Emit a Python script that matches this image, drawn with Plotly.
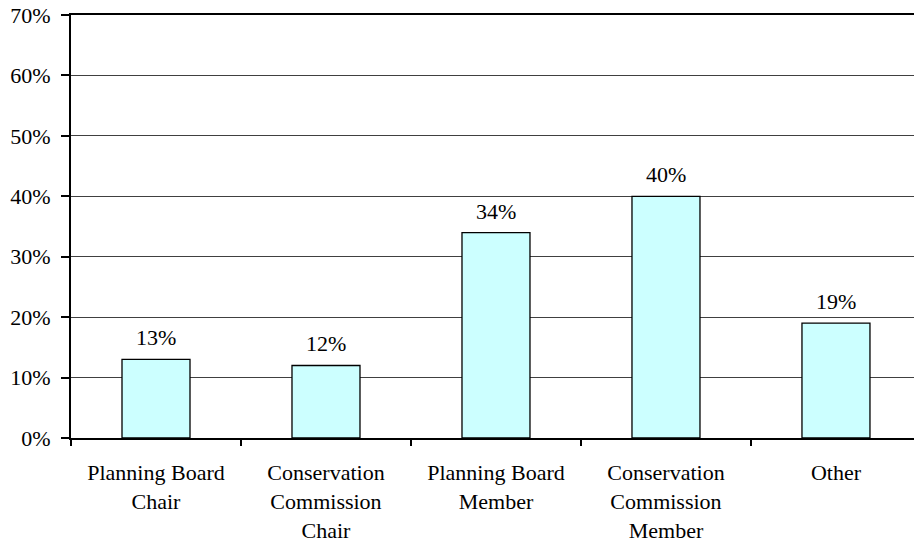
import plotly.graph_objects as go

categories = ["Planning Board<br>Chair", "Conservation<br>Commission<br>Chair",
              "Planning Board<br>Member", "Conservation<br>Commission<br>Member", "Other"]
values = [13, 12, 34, 40, 19]
y_ticks = [0, 10, 20, 30, 40, 50, 60, 70]
y_tick_labels = [f"{v}%" for v in y_ticks]
value_labels = [f"{v}%" for v in values]

FONT = "'Liberation Serif', 'Times New Roman', serif"
FS = 22

fig = go.Figure()
fig.add_trace(go.Bar(
    x=categories, y=values, width=0.4,
    marker=dict(color="#CCFFFF", line=dict(color="black", width=1.3)),
    hoverinfo="skip",
))

for c, v, t in zip(categories, values, value_labels):
    fig.add_annotation(x=c, y=v, xref="x", yref="y", text=t, showarrow=False,
                       yanchor="bottom", yshift=7,
                       font=dict(family=FONT, size=FS, color="black"))

fig.update_layout(
    width=914, height=544,
    margin=dict(l=71, r=0, t=15, b=106, autoexpand=False),
    paper_bgcolor="white", plot_bgcolor="white",
    showlegend=False,
    font=dict(family=FONT, size=FS, color="black"),
    bargap=0.6,
)
fig.update_xaxes(
    type="category", range=[-0.5, 4.459], automargin=False,
    tickson="boundaries", ticks="outside", ticklen=6, tickcolor="black", tickwidth=1.5,
    showline=True, linecolor="black", linewidth=2, mirror=True,
    showgrid=False, ticklabelstandoff=14,
    tickfont=dict(family=FONT, size=FS, color="black"),
)
fig.update_yaxes(
    range=[0, 70], tickvals=y_ticks, ticktext=y_tick_labels, automargin=False,
    ticks="outside", ticklen=8, tickcolor="black", tickwidth=1.5,
    showline=True, linecolor="black", linewidth=2,
    showgrid=True, gridcolor="#404040", gridwidth=1.3,
    zeroline=False, ticklabelstandoff=6, ticklabeloverflow="allow",
    tickfont=dict(family=FONT, size=FS, color="black"),
)

fig.write_html("out.html",
               config={"displayModeBar": False},
               post_script="document.body.style.margin='0';document.body.style.overflow='hidden';")
